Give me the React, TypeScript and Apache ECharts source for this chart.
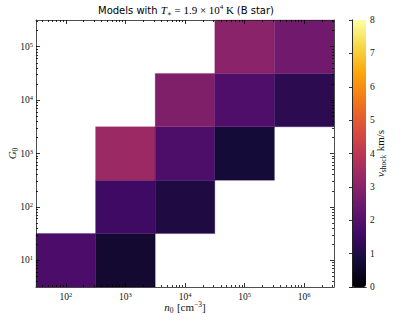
import React, { useEffect, useRef } from "react";
import * as echarts from "echarts";

// log10 of n0 (cell centres), log10 of G0 (cell centres), shock velocity (km/s)
const n0Exp = [2, 3, 3, 4, 3, 4, 5, 4, 5, 6, 5, 6];
const g0Exp = [1, 1, 2, 2, 3, 3, 3, 4, 4, 4, 5, 5];
const vShock = [1.78, 0.68, 1.53, 0.96, 3.34, 1.82, 0.78, 2.81, 1.86, 1.2, 3.02, 2.54];

const xMajor = [2, 3, 4, 5, 6];
const yMajor = [1, 2, 3, 4, 5];
const xRange = [1.5, 6.5];
const yRange = [0.5, 5.5];
const cbRange = [0, 8];

const infernoColors = [
  "#000004", "#160b39", "#420a68", "#6a176e", "#932667", "#bc3754",
  "#dd513a", "#f37819", "#fca50a", "#f6d746", "#fcffa4",
];

const SERIF = "'Liberation Serif', 'DejaVu Serif', serif";
const SANS = "'DejaVu Sans', 'Liberation Sans', sans-serif";

function minorTicks(lo: number, hi: number): number[] {
  const out: number[] = [];
  for (let k = Math.floor(lo) - 1; k <= Math.ceil(hi); k++) {
    for (let m = 2; m <= 9; m++) {
      const v = k + Math.log10(m);
      if (v > lo && v < hi) out.push(v);
    }
  }
  return out;
}

const tickRich = {
  b: { fontFamily: SERIF, fontSize: 9.5, color: "#111", lineHeight: 12 },
  sup: { fontFamily: SERIF, fontSize: 6.5, color: "#111", verticalAlign: "top", lineHeight: 8 },
};
const nameRich = {
  i: { fontFamily: SERIF, fontStyle: "italic", fontSize: 11, color: "#111", lineHeight: 14 },
  r: { fontFamily: SERIF, fontSize: 11, color: "#111", lineHeight: 14 },
  sub: { fontFamily: SERIF, fontSize: 7.5, color: "#111", verticalAlign: "bottom", lineHeight: 11 },
  sup: { fontFamily: SERIF, fontSize: 7.5, color: "#111", verticalAlign: "top", lineHeight: 9 },
};

const LINE = { show: true, lineStyle: { color: "#222", width: 0.8 } };

function App() {
  const ref = useRef<HTMLDivElement>(null);
  useEffect(() => {
    if (!ref.current) return;
    const chart = echarts.init(ref.current, undefined, { renderer: "svg" });
    const xMinor = minorTicks(xRange[0], xRange[1]);
    const yMinor = minorTicks(yRange[0], yRange[1]);
    const cells = n0Exp.map((x, i) => [x, g0Exp[i], vShock[i]]);

    const labelFmt = (v: number) => `{b|10}{sup|${Math.round(v)}}`;

    const mkX = (pos: string, major: boolean, labels: boolean, grid = 0) => ({
      type: "value",
      gridIndex: grid,
      position: pos,
      min: xRange[0],
      max: xRange[1],
      z: 10,
      axisLine: major ? LINE : { show: false },
      axisTick: {
        show: true,
        inside: true,
        length: major ? 4 : 2,
        customValues: major ? xMajor : xMinor,
        lineStyle: { color: "#000", width: 0.8 },
      },
      axisLabel: labels
        ? { show: true, customValues: xMajor, formatter: labelFmt, rich: tickRich, margin: 4 }
        : { show: false },
      splitLine: { show: false },
    });
    const mkY = (pos: string, major: boolean, labels: boolean) => ({
      type: "value",
      gridIndex: 0,
      position: pos,
      min: yRange[0],
      max: yRange[1],
      z: 10,
      axisLine: major ? LINE : { show: false },
      axisTick: {
        show: true,
        inside: true,
        length: major ? 4 : 2,
        customValues: major ? yMajor : yMinor,
        lineStyle: { color: "#000", width: 0.8 },
      },
      axisLabel: labels
        ? { show: true, customValues: yMajor, formatter: labelFmt, rich: tickRich, margin: 3 }
        : { show: false },
      splitLine: { show: false },
    });

    const xb = mkX("bottom", true, true) as any;
    xb.name = "{i|n}{sub|0} {r|[cm}{sup|−3}{r|]}";
    xb.nameLocation = "middle";
    xb.nameGap = 13;
    xb.nameMoveOverlap = false;
    xb.nameTextStyle = { rich: nameRich };
    const yl = mkY("left", true, true) as any;
    yl.name = "{i|G}{sub|0}";
    yl.nameLocation = "middle";
    yl.nameRotate = 90;
    yl.nameGap = 17;
    yl.nameMoveOverlap = false;
    yl.nameTextStyle = { rich: nameRich };

    const cbLineAxis = (pos: string) => ({
      type: "value",
      gridIndex: 1,
      position: pos,
      min: 0,
      max: 1,
      z: 10,
      axisLine: LINE,
      axisTick: { show: false },
      axisLabel: { show: false },
      splitLine: { show: false },
    });

    const option: any = {
      animation: false,
      backgroundColor: "#fff",
      grid: [
        { left: 36, top: 20, width: 298, height: 267, containLabel: false, outerBoundsMode: "none" },
        { left: 352, top: 20, width: 14, height: 267, containLabel: false, outerBoundsMode: "none" },
      ],
      graphic: [
        {
          type: "text",
          x: 186,
          y: 3,
          style: {
            text:
              "{s|Models with }{i|T}{sub|∗}{r| = 1.9 × 10}{sup|4}{r| K }{s|(B star)}",
            align: "center",
            rich: {
              s: { fontFamily: SANS, fontSize: 10, color: "#111", lineHeight: 14 },
              i: { fontFamily: SERIF, fontStyle: "italic", fontSize: 11, color: "#111", lineHeight: 14 },
              r: { fontFamily: SERIF, fontSize: 11, color: "#111", lineHeight: 14 },
              sub: { fontFamily: SERIF, fontSize: 7, color: "#111", verticalAlign: "bottom", lineHeight: 11 },
              sup: { fontFamily: SERIF, fontSize: 7, color: "#111", verticalAlign: "top", lineHeight: 9 },
            },
          },
        },
      ],
      xAxis: [
        xb,
        mkX("bottom", false, false),
        mkX("top", true, false),
        mkX("top", false, false),
        cbLineAxis("bottom"),
        cbLineAxis("top"),
      ],
      yAxis: [
        yl,
        mkY("left", false, false),
        mkY("right", true, false),
        mkY("right", false, false),
        {
          type: "value",
          gridIndex: 1,
          position: "right",
          min: cbRange[0],
          max: cbRange[1],
          interval: 1,
          z: 10,
          axisLine: LINE,
          axisTick: { show: true, inside: true, length: 3, lineStyle: { color: "#000", width: 0.8 } },
          axisLabel: { show: true, fontFamily: SERIF, fontSize: 9.5, color: "#111", margin: 4 },
          splitLine: { show: false },
          name: "{i|v}{sub|shock} {r|km/s}",
          nameLocation: "middle",
          nameRotate: 90,
          nameGap: 7,
          nameMoveOverlap: false,
          nameTextStyle: { rich: nameRich },
        },
        cbLineAxis("left"),
      ],
      visualMap: {
        type: "continuous",
        min: cbRange[0],
        max: cbRange[1],
        dimension: 2,
        seriesIndex: 0,
        orient: "vertical",
        left: 352,
        top: 20,
        itemWidth: 14,
        itemHeight: 267,
        padding: 0,
        calculable: false,
        hoverLink: false,
        text: null,
        inRange: { color: infernoColors },
      },
      series: [
        {
          type: "custom",
          xAxisIndex: 0,
          yAxisIndex: 0,
          encode: { x: 0, y: 1 },
          data: cells,
          renderItem: (params: any, api: any) => {
            const x = api.value(0);
            const y = api.value(1);
            const p0 = api.coord([x - 0.5, y + 0.5]);
            const p1 = api.coord([x + 0.5, y - 0.5]);
            const c = api.visual("color");
            return {
              type: "rect",
              shape: { x: p0[0], y: p0[1], width: p1[0] - p0[0], height: p1[1] - p0[1] },
              style: { fill: c, stroke: c, lineWidth: 0.3 },
            };
          },
        },
      ],
    };
    chart.setOption(option);
    return () => chart.dispose();
  }, []);
  return (
    <div
      ref={ref}
      style={{ position: "fixed", left: 0, top: 0, width: 415, height: 323, background: "#fff" }}
    />
  );
}

export default App;
